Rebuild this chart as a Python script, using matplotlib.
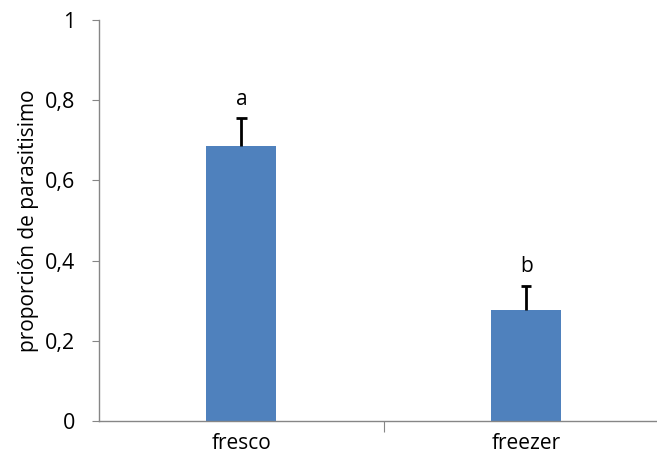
import matplotlib.pyplot as plt
import numpy as np

plt.rcParams['font.family'] = ['Open Sans', 'DejaVu Sans']

categories = ['fresco', 'freezer']
means = [0.687, 0.277]
errors = [0.068, 0.060]
letters = ['a', 'b']

fig = plt.figure(figsize=(6.57, 4.62), dpi=100)
ax = fig.add_axes([0.1507, 0.0887, 0.867, 0.868])

x_pos = np.arange(len(categories))
tops = np.array(means) + np.array(errors)
ax.bar(x_pos, means, width=0.246, color='#4f81bd', zorder=2)
# only upper error bar, with cap
ax.vlines(x_pos, means, tops, color='black', linewidth=2, zorder=3)
ax.hlines(tops, x_pos - 0.018, x_pos + 0.018, color='black', linewidth=2, zorder=3)

for x, t, lab in zip(x_pos, tops, letters):
    ax.text(x, t + 0.048, lab, ha='center', va='center', fontsize=15)

ax.set_xlim(-0.5, 1.5)
ax.set_ylim(0, 1)
ax.set_yticks([0, 0.2, 0.4, 0.6, 0.8, 1])
ax.set_yticklabels(['0', '0,2', '0,4', '0,6', '0,8', '1'], fontsize=15.5)
ax.set_xticks([0.5])
ax.set_xticklabels([''])
ax.tick_params(axis='x', length=8, color='#868686', direction='out')
ax.tick_params(axis='y', length=5, color='#868686', direction='out', pad=12)
for x, c in zip(x_pos, categories):
    ax.text(x, -0.055, c, ha='center', va='center', fontsize=15)

ax.set_ylabel('proporción de parasitisimo', fontsize=15, labelpad=4)

for s in ['top', 'right']:
    ax.spines[s].set_visible(False)
for s in ['left', 'bottom']:
    ax.spines[s].set_color('#868686')
    ax.spines[s].set_linewidth(1)

fig.savefig('out.png', dpi=100)
